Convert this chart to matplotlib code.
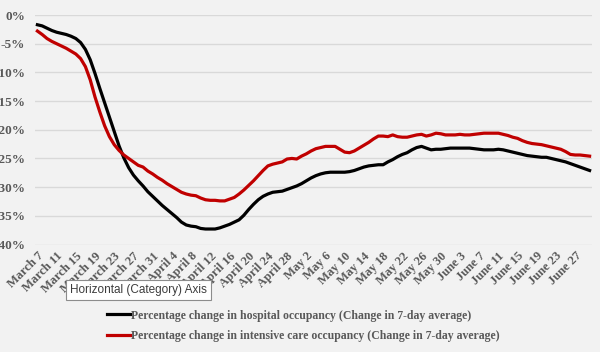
import matplotlib
matplotlib.use("Agg")
import matplotlib.pyplot as plt
import numpy as np

# daily values, March 7 .. June 30 (percent change in 7-day average)
hospital = [
    -1.7, -1.9, -2.3, -2.7, -3.0, -3.2, -3.4, -3.7, -4.1, -4.8,
    -6.0, -7.8, -10.2, -12.8, -15.3, -17.8, -20.3, -22.8, -24.9, -26.6,
    -27.9, -28.9, -29.8, -30.8, -31.6, -32.4, -33.2, -33.9, -34.6, -35.3,
    -36.1, -36.6, -36.8, -36.9, -37.2, -37.3, -37.3, -37.3, -37.1, -36.8,
    -36.5, -36.1, -35.7, -34.9, -33.9, -33.0, -32.2, -31.6, -31.2, -30.9,
    -30.8, -30.7, -30.4, -30.1, -29.8, -29.4, -28.9, -28.4, -28.0, -27.7,
    -27.5, -27.4, -27.4, -27.4, -27.4, -27.3, -27.1, -26.8, -26.5, -26.3,
    -26.2, -26.1, -26.1, -25.6, -25.2, -24.7, -24.3, -24.0, -23.5, -23.1,
    -22.9, -23.2, -23.5, -23.4, -23.4, -23.3, -23.2, -23.2, -23.2, -23.2,
    -23.2, -23.3, -23.4, -23.5, -23.5, -23.5, -23.4, -23.5, -23.7, -23.9,
    -24.1, -24.3, -24.5, -24.6, -24.7, -24.8, -24.8, -25.0, -25.2, -25.4,
    -25.6, -25.9, -26.2, -26.5, -26.8, -27.1,
]
icu = [
    -2.8, -3.4, -4.1, -4.6, -5.0, -5.4, -5.8, -6.3, -6.8, -7.6,
    -9.0, -11.3, -14.3, -16.9, -19.3, -21.2, -22.6, -23.6, -24.4, -25.0,
    -25.6, -26.2, -26.5, -27.2, -27.7, -28.3, -28.8, -29.4, -29.9, -30.4,
    -30.9, -31.2, -31.4, -31.5, -31.9, -32.2, -32.3, -32.3, -32.4, -32.4,
    -32.1, -31.8, -31.2, -30.5, -29.7, -28.9, -28.0, -27.1, -26.3, -26.0,
    -25.8, -25.6, -25.1, -25.0, -25.1, -24.6, -24.2, -23.7, -23.3, -23.1,
    -22.9, -22.9, -22.9, -23.4, -23.9, -24.0, -23.7, -23.2, -22.7, -22.2,
    -21.6, -21.1, -21.1, -21.2, -20.9, -21.2, -21.3, -21.3, -21.1, -20.9,
    -20.8, -21.1, -20.9, -20.6, -20.7, -20.9, -20.9, -20.9, -20.8, -20.9,
    -20.9, -20.8, -20.7, -20.6, -20.6, -20.6, -20.6, -20.8, -21.0, -21.3,
    -21.5, -21.9, -22.2, -22.4, -22.5, -22.6, -22.8, -23.0, -23.2, -23.4,
    -23.8, -24.3, -24.4, -24.4, -24.5, -24.6,
]
tick_labels = [
    "March 7", "March 11", "March 15", "March 19", "March 23", "March 27",
    "March 31", "April 4", "April 8", "April 12", "April 16", "April 20",
    "April 24", "April 28", "May 2", "May 6", "May 10", "May 14", "May 18",
    "May 22", "May 26", "May 30", "June 3", "June 7", "June 11", "June 15",
    "June 19", "June 23", "June 27",
]
series_names = [
    "Percentage change in hospital occupancy (Change in 7-day average)",
    "Percentage change in intensive care occupancy (Change in 7-day average)",
]

bg = "#F2F2F2"
txt = "#595959"
serif = ["Liberation Serif", "DejaVu Serif"]

fig = plt.figure(figsize=(6, 3.52), dpi=100, facecolor=bg)
ax = fig.add_axes([35 / 600, 1 - 244.5 / 352, 557 / 600, 229.5 / 352])
ax.set_facecolor(bg)

x = np.arange(len(hospital))
ax.plot(x, hospital, color="black", lw=2.3, label=series_names[0], zorder=3)
ax.plot(x, icu, color="#C00000", lw=2.3, label=series_names[1], zorder=3)

ax.set_xlim(-0.5, len(hospital) - 0.5)
ax.set_ylim(-40, 0)
ax.set_yticks(np.arange(-40, 1, 5))
ax.set_yticklabels(["%d%%" % v for v in np.arange(-40, 1, 5)])
ax.yaxis.grid(True, color="#D9D9D9", lw=1)
ax.set_axisbelow(True)
for s in ax.spines.values():
    s.set_visible(False)

ax.set_xticks(np.arange(0, len(hospital), 4)[:len(tick_labels)])
ax.set_xticklabels(tick_labels, rotation=45, ha="right", va="top",
                   rotation_mode="anchor")
ax.tick_params(length=0)
ax.tick_params(axis="x", pad=4)
ax.tick_params(axis="y", pad=7)
for lab in ax.get_xticklabels():
    lab.set_fontsize(9)
for lab in ax.get_yticklabels():
    lab.set_fontsize(9.5)
for lab in ax.get_xticklabels() + ax.get_yticklabels():
    lab.set_family(serif)
    lab.set_fontweight("bold")
    lab.set_color(txt)

leg = fig.legend(loc="upper left", bbox_to_anchor=(96 / 600, 1 - 299 / 352),
                 frameon=False, handlelength=2.0, handletextpad=0.1,
                 labelspacing=0.7,
                 prop={"family": serif, "weight": "bold", "size": 8.5})
for t in leg.get_texts():
    t.set_color(txt)

# hover tooltip captured with the chart
fig.text(70 / 600, 1 - 290 / 352, "Horizontal (Category) Axis",
         fontsize=8.5, family="Liberation Sans", color="#3C3C3C", va="center",
         bbox=dict(boxstyle="square,pad=0.35", fc="white", ec="#8C8C8C", lw=0.8))

fig.savefig("out.png", dpi=100, facecolor=bg)
